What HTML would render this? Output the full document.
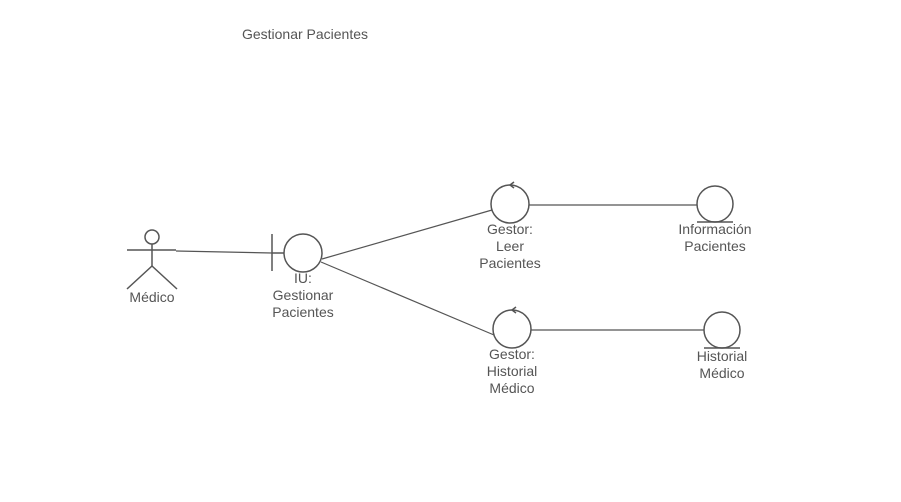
<!DOCTYPE html>
<html><head><style>
body{margin:0;background:#fff;}
svg{display:block;}
text{font-family:"Liberation Sans",sans-serif;font-size:14px;fill:#555;text-anchor:middle;}
</style></head><body>
<svg width="901" height="502" viewBox="0 0 901 502">
<rect width="901" height="502" fill="#fff"/>
<g stroke="#555" stroke-width="1.5" fill="none">
<circle cx="152" cy="237" r="7"/>
<line x1="152" y1="244" x2="152" y2="266"/>
<line x1="127" y1="250" x2="176" y2="250"/>
<line x1="152" y1="266" x2="127" y2="289"/>
<line x1="152" y1="266" x2="177" y2="289"/>
<line x1="176" y1="251" x2="272" y2="253" stroke-width="1.2"/>
<line x1="272" y1="234" x2="272" y2="271"/>
<line x1="272" y1="253" x2="284" y2="253"/>
<circle cx="303" cy="253" r="19"/>
<line x1="322" y1="259" x2="492" y2="210" stroke-width="1.2"/>
<line x1="321" y1="262" x2="494" y2="335" stroke-width="1.2"/>
<circle cx="510" cy="204" r="19"/>
<path d="M514 182 L510 185 L514 188"/>
<circle cx="512" cy="329" r="19"/>
<path d="M516 307 L512 310 L516 313"/>
<line x1="529" y1="205" x2="697" y2="205" stroke-width="1.2"/>
<line x1="531" y1="330" x2="704" y2="330" stroke-width="1.2"/>
<circle cx="715" cy="204" r="18"/>
<line x1="697" y1="222" x2="733" y2="222"/>
<circle cx="722" cy="330" r="18"/>
<line x1="704" y1="348" x2="740" y2="348"/>
</g>
<text x="305" y="39">Gestionar Pacientes</text>
<text x="152" y="302">Médico</text>
<text x="303" y="283">IU:</text>
<text x="303" y="300">Gestionar</text>
<text x="303" y="317">Pacientes</text>
<text x="510" y="234">Gestor:</text>
<text x="510" y="251">Leer</text>
<text x="510" y="268">Pacientes</text>
<text x="512" y="359">Gestor:</text>
<text x="512" y="376">Historial</text>
<text x="512" y="393">Médico</text>
<text x="715" y="234">Información</text>
<text x="715" y="251">Pacientes</text>
<text x="722" y="361">Historial</text>
<text x="722" y="378">Médico</text>
</svg>
</body></html>
